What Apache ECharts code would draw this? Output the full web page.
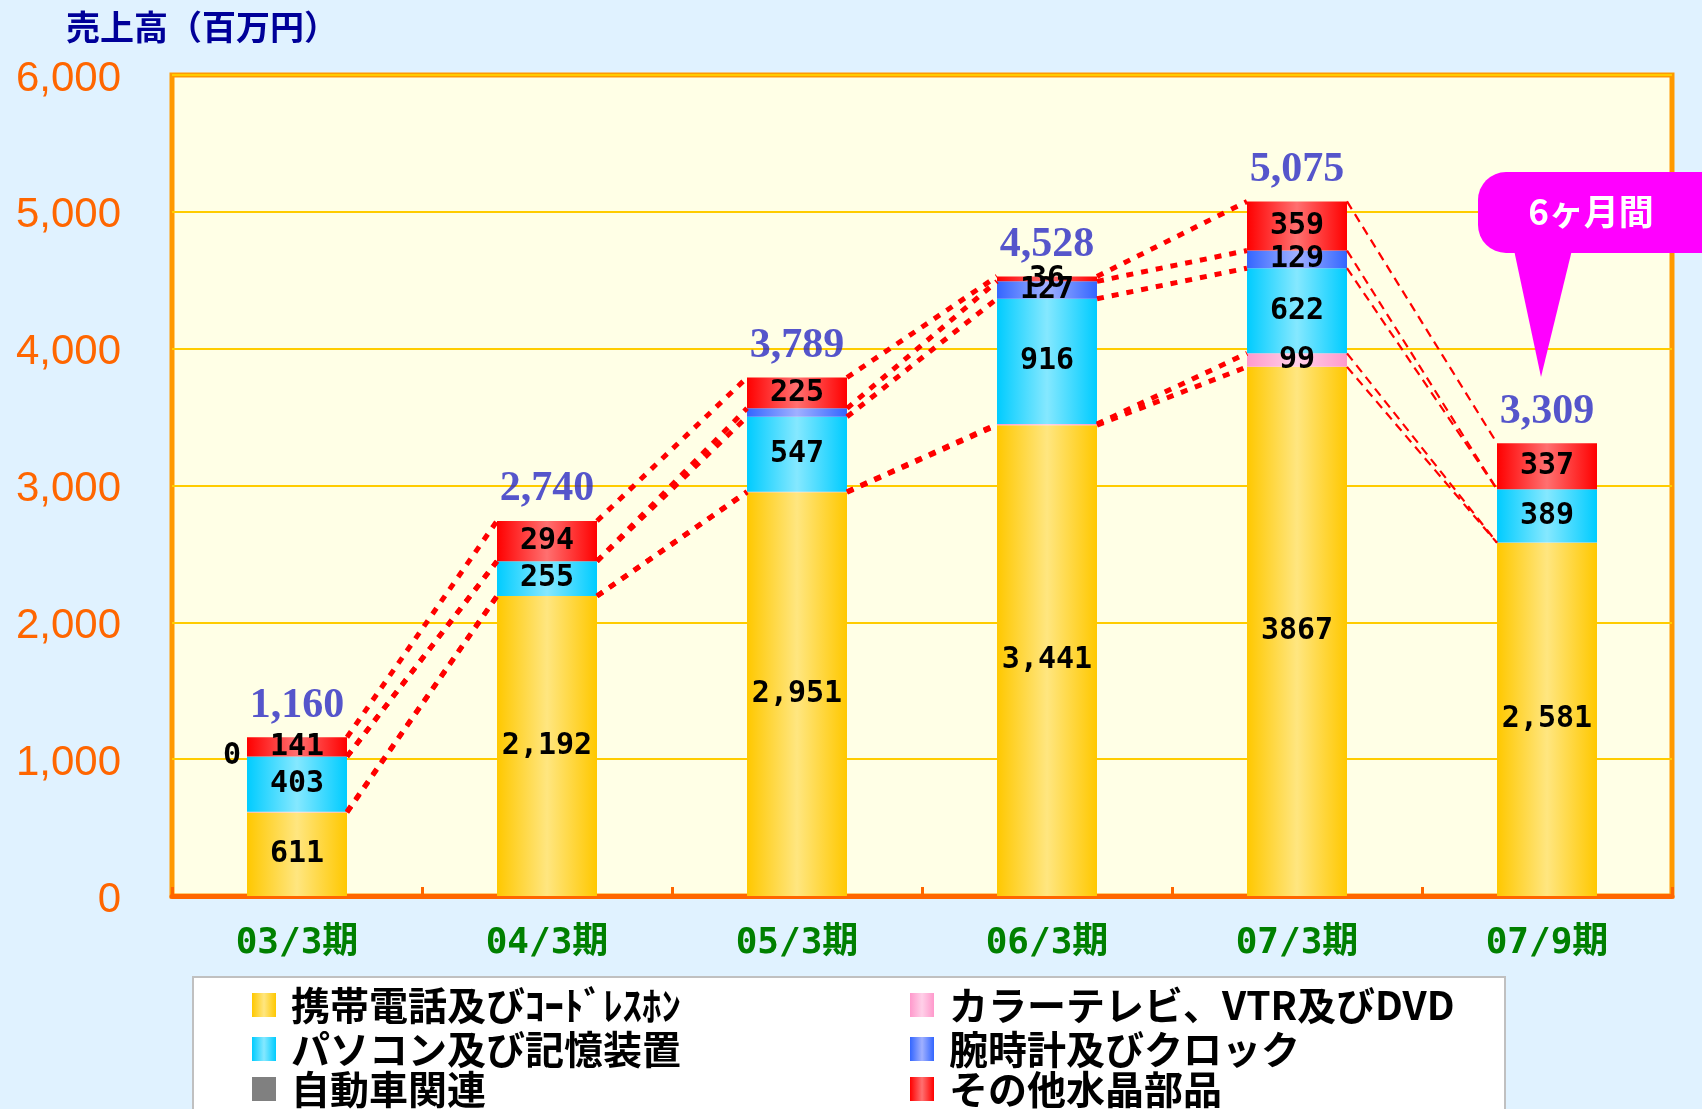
<!DOCTYPE html>
<html><head><meta charset="utf-8">
<script src="https://cdn.jsdelivr.net/npm/echarts@6/dist/echarts.min.js"></script>
<style>html,body{margin:0;padding:0;background:#E0F2FF;}#c{width:1702px;height:1109px;}</style>
</head><body><div id="c"></div>
<script>
// ---- data ----
const categories = ['03/3期','04/3期','05/3期','06/3期','07/3期','07/9期'];
const phone = [611, 2192, 2951, 3441, 3867, 2581];
const tv    = [5, 0, 4, 8, 99, 2];
const pc    = [403, 255, 547, 916, 622, 389];
const watch = [0, 0, 62, 127, 129, 0];
const auto  = [0, 0, 0, 0, 0, 0];
const other = [141, 294, 225, 36, 359, 337];
const totals = [1160, 2740, 3789, 4528, 5075, 3309];

const phoneLabels = ['611','2,192','2,951','3,441','3867','2,581'];
const tvLabels    = ['','','','','99',''];
const pcLabels    = ['403','255','547','916','622','389'];
const watchLabels = ['0','','','127','129',''];
const autoLabels  = ['','','','','',''];
const otherLabels = ['141','294','225','36','359','337'];
const totalLabels = ['1,160','2,740','3,789','4,528','5,075','3,309'];
const yTickLabels = ['0','1,000','2,000','3,000','4,000','5,000','6,000'];

const names = ['携帯電話及びｺｰﾄﾞﾚｽﾎﾝ','カラーテレビ、VTR及びDVD','パソコン及び記憶装置','腕時計及びクロック','自動車関連','その他水晶部品'];

// ---- styles ----
function grad(dark, light){
  return {type:'linear', x:0, y:0, x2:1, y2:0, colorStops:[
    {offset:0, color:dark},{offset:0.5, color:light},{offset:1, color:dark}]};
}
const colors = [grad('#FFC800','#FFE680'), grad('#FF99CC','#FFD0E8'), grad('#00CCFF','#85E8FF'),
                grad('#3366FF','#A0B0FF'), '#808080', grad('#FF0000','#FF7070')];
const values = [phone, tv, pc, watch, auto, other];
const labels = [phoneLabels, tvLabels, pcLabels, watchLabels, autoLabels, otherLabels];

const segLabel = {show:true, position:'inside', color:'#000', fontFamily:'DejaVu Sans Mono', fontWeight:'bold', fontSize:30};

const barSeries = values.map((arr, s) => ({
  name: names[s], type:'bar', stack:'total', barWidth:'40%',
  itemStyle:{color: colors[s]},
  label: Object.assign({}, segLabel, {formatter: p => labels[s][p.dataIndex]}),
  data: arr.map((v, i) => (s === 3 && i === 0) ? {value:v, label:{position:'left', distance:6}} : v),
  z: 2
}));

// cumulative tops for series lines
const levelArrays = [phone, tv, pc, watch, other];
const cum = [];
let run = categories.map(() => 0);
levelArrays.forEach((arr, k) => {
  run = run.map((r, i) => r + arr[i] + (k === 4 ? auto[i] : 0));
  cum.push(run.slice());
});
const connData = [];
cum.forEach(level => {
  for (let i = 0; i < categories.length - 1; i++) connData.push([i, level[i], level[i+1]]);
});

// legend layout: two columns, three rows
const legendPos = [[252, 984], [910, 984], [252, 1028], [910, 1028], [252, 1068], [910, 1068]];
const legendText = {fontFamily:'Noto Sans CJK JP', fontWeight:'bold', fontSize:39, color:'#000', lineHeight:42, padding:[0,0,0,10]};
const legends = names.map((n, k) => ({
  data:[n], left:legendPos[k][0], top:legendPos[k][1], padding:0, itemWidth:24, itemHeight:24,
  icon:'rect', selectedMode:false, textStyle:legendText
}));

const chart = echarts.init(document.getElementById('c'), null, {renderer:'canvas'});
chart.setOption({
  animation:false,
  backgroundColor:'#E0F2FF',
  title:{text:'売上高（百万円）', left:61, top:5,
    textStyle:{fontFamily:'Noto Sans CJK JP', fontWeight:'bold', fontSize:34, color:'#000099'}},
  grid:{left:172, right:30, top:75, bottom:213, show:true, backgroundColor:'#FFFFE6',
    borderColor:'#FF9900', borderWidth:5, outerBoundsMode:'none'},
  legend: legends,
  xAxis:{type:'category', data:categories,
    axisLine:{lineStyle:{color:'#FF6600', width:5}},
    axisTick:{show:true, inside:true, length:9, lineStyle:{color:'#FF6600', width:3}},
    axisLabel:{color:'#008000', fontFamily:'DejaVu Sans Mono, Noto Sans CJK JP', fontWeight:'bold', fontSize:36, margin:30},
    splitLine:{show:false}},
  yAxis:{type:'value', min:0, max:6000, interval:1000,
    axisLine:{show:false}, axisTick:{show:false},
    axisLabel:{margin:51,
      formatter: v => '{a|' + yTickLabels[Math.round(v/1000)] + '}',
      rich:{a:{color:'#FF6600', fontFamily:'Liberation Sans', fontSize:42, lineHeight:42, padding:[8,0,0,0]}}},
    splitLine:{lineStyle:{color:'#FFCC00', width:2}}},
  series: barSeries.concat([
    {type:'custom', name:'lines', silent:true, z:3, encode:{x:0, y:1},
     data: connData,
     renderItem:(params, api) => {
       const i = api.value(0);
       const a = api.coord([i, api.value(1)]);
       const b = api.coord([i+1, api.value(2)]);
       const hw = api.size([1,0])[0] * 0.2;
       const last = (i === categories.length - 2);
       return {type:'line', shape:{x1:a[0]+hw, y1:a[1], x2:b[0]-hw, y2:b[1]},
         style:{stroke:'#FF0000', lineWidth: last ? 2.2 : 5, lineDash: last ? [9,6] : [7,8], fill:null}};
     }},
    {type:'scatter', name:'total', silent:true, symbolSize:1, itemStyle:{color:'rgba(0,0,0,0)'}, z:5,
     data: totals,
     label:{show:true, position:'top', distance:10, color:'#2B2BC4', fontFamily:'Liberation Serif',
       fontWeight:'bold', fontSize:42, formatter: p => totalLabels[p.dataIndex]}}
  ]),
  graphic:[
    {type:'rect', z:1, shape:{x:193, y:977, width:1312, height:160},
     style:{fill:'#FFFFFF', stroke:'#C0C0C0', lineWidth:2}},
    {type:'rect', z:100, shape:{x:1478, y:172, width:270, height:81, r:28}, style:{fill:'#FF00FF'}},
    {type:'polygon', z:100, shape:{points:[[1514,250],[1572,250],[1541,377]]}, style:{fill:'#FF00FF'}},
    {type:'text', z:101, x:1591, y:212, style:{text:'6ヶ月間', fill:'#FFFFFF', font:'bold 35px "Noto Sans CJK JP"',
      textAlign:'center', textVerticalAlign:'middle'}}
  ]
});
</script></body></html>
